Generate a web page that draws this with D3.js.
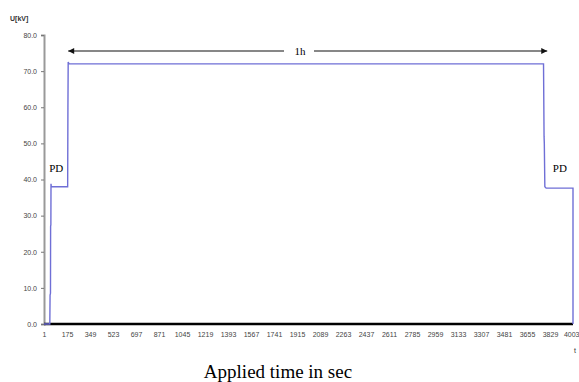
<!DOCTYPE html>
<html>
<meta charset="utf-8">
<style>
  body{ margin:0; background:#fff }
  text{ font-family: Arial, 'Liberation Sans', sans-serif }
  .tick text{ fill:#444; font-size:7px }
  .serif{ font-family:'Liberation Serif', 'Times New Roman', serif }
</style>
<body>
<script src="https://cdn.jsdelivr.net/npm/d3@7"></script>
<script>
  // time (s) and voltage (kV) of the applied test voltage
  var timeSec = [1, 45, 47, 50, 51, 53, 54, 56, 180, 182, 184, 190, 1200, 3780, 3784, 3786, 3790, 3800, 4003, 4003]
  var voltKV  = [0, 0, 8, 8.5, 27, 27.5, 38.8, 38, 38, 60, 72.5, 72, 72, 72, 52, 50, 38, 37.6, 37.6, 0]
  var xTicks  = [1, 175, 349, 523, 697, 871, 1045, 1219, 1393, 1567, 1741, 1915, 2089, 2263, 2437, 2611, 2785, 2959, 3133, 3307, 3481, 3655, 3829, 4003]
  var yTicks  = [0, 10, 20, 30, 40, 50, 60, 70, 80]
  var arrowSpan = [184, 3808]
  var pdMarks = [[40, 'PD'], [3850, 'PD']]

  var svg = d3.select('body').append('svg').attr('width', 579).attr('height', 382)

  var x = d3.scaleLinear().domain([1, 4003]).range([44, 573])
  var y = d3.scaleLinear().domain([0, 80]).range([324, 35])

  var defs = svg.append('defs')
  defs.append('marker').attr('id', 'ah').attr('viewBox', '0 0 10 10')
    .attr('refX', 10).attr('refY', 5).attr('markerWidth', 8).attr('markerHeight', 6)
    .attr('markerUnits', 'userSpaceOnUse').attr('orient', 'auto-start-reverse')
    .append('path').attr('d', 'M0,0L10,5L0,10z').attr('fill', '#111')

  // y axis
  var gy = svg.append('g').attr('transform', 'translate(44,0)')
    .call(d3.axisLeft(y).tickValues(yTicks).tickSize(3).tickPadding(4).tickFormat(d3.format('.1f')))
  gy.select('.domain').attr('stroke', '#999').attr('stroke-width', 2)
  gy.selectAll('.tick line').attr('stroke', '#777')

  // x axis (labels only)
  var gx = svg.append('g').attr('transform', 'translate(0,324)')
    .call(d3.axisBottom(x).tickValues(xTicks).tickSize(0).tickPadding(8).tickFormat(d3.format('d')))
  gx.select('.domain').remove()
  gx.selectAll('.tick text').filter(d => d === 4003).attr('text-anchor', 'end').attr('dx', 6)

  // zero line
  svg.append('line').attr('x1', x(1)).attr('x2', x(4003)).attr('y1', y(0)).attr('y2', y(0))
    .attr('stroke', '#000').attr('stroke-width', 2.5)

  // voltage curve
  var pts = timeSec.map((t, i) => [t, voltKV[i]])
  svg.append('path').datum(pts)
    .attr('d', d3.line().x(d => x(d[0])).y(d => y(d[1])))
    .attr('fill', 'none').attr('stroke', '#6f6fd6').attr('stroke-width', 1.4)

  // 1h arrow
  var ay = 51
  svg.append('line').attr('x1', x(arrowSpan[0])).attr('x2', x(arrowSpan[1])).attr('y1', ay).attr('y2', ay)
    .attr('stroke', '#111').attr('stroke-width', 1.2)
    .attr('marker-start', 'url(#ah)').attr('marker-end', 'url(#ah)')
  svg.append('rect').attr('x', 284).attr('y', ay - 6).attr('width', 30).attr('height', 12).attr('fill', '#fff')
  svg.append('text').attr('class', 'serif').attr('x', 300).attr('y', ay + 3.5)
    .attr('text-anchor', 'middle').style('font-size', '11px').text('1h')

  svg.selectAll('.pd').data(pdMarks).enter().append('text').attr('class', 'serif pd')
    .attr('x', d => x(d[0])).attr('y', 172).style('font-size', '11px').text(d => d[1])

  svg.append('text').attr('x', 10).attr('y', 21).style('font-size', '7px').style('font-weight', 'bold')
    .attr('fill', '#333').text('U[kV]')
  svg.append('text').attr('x', 575).attr('y', 353).attr('text-anchor', 'middle')
    .style('font-size', '7px').attr('fill', '#333').text('t')
  svg.append('text').attr('class', 'serif').attr('x', 278).attr('y', 378).attr('text-anchor', 'middle')
    .style('font-size', '19px').text('Applied time in sec')
</script>
</body>
</html>
